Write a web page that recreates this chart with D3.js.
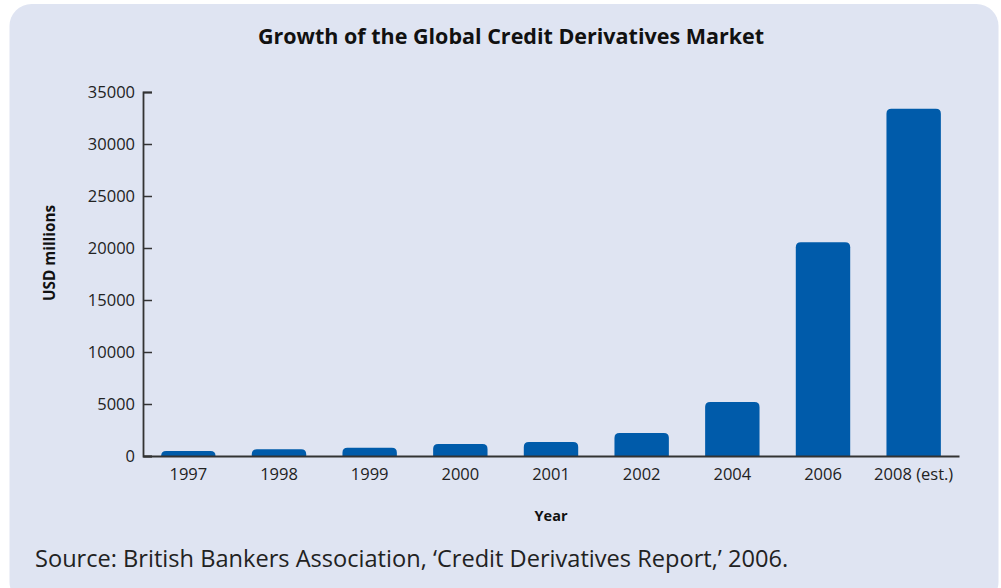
<!DOCTYPE html>
<html>
<head>
<meta charset="utf-8">
<script src="https://cdn.jsdelivr.net/npm/d3@7"></script>
<style>
  html, body { margin: 0; padding: 0; background: #ffffff; }
  svg { display: block; font-family: "Open Sans", "Noto Sans", sans-serif; }
</style>
</head>
<body>
<svg id="chart" width="1001" height="588"></svg>
<script>
// Global credit derivatives market size, USD millions
const years = ["1997", "1998", "1999", "2000", "2001", "2002", "2004", "2006", "2008 (est.)"];
const values = [480, 650, 800, 1150, 1350, 2200, 5200, 20550, 33400];
const yTicks = [0, 5000, 10000, 15000, 20000, 25000, 30000, 35000];

const svg = d3.select("#chart");

// panel background
svg.append("rect")
  .attr("x", 9.5).attr("y", 4)
  .attr("width", 989).attr("height", 600)
  .attr("rx", 22).attr("ry", 22)
  .attr("fill", "#dfe4f2");

const x = d3.scaleBand()
  .domain(years)
  .range([143, 959])
  .paddingInner(0.4)
  .paddingOuter(0.2);

const y = d3.scaleLinear()
  .domain([0, 35000])
  .range([456, 92]);

// bars with rounded tops
const r = 5;
function barPath(d, i) {
  const x0 = x(years[i]), w = x.bandwidth();
  const y0 = y(0), y1 = y(d);
  const rr = Math.min(r, (y0 - y1));
  return `M${x0},${y0}V${y1 + rr}Q${x0},${y1} ${x0 + rr},${y1}H${x0 + w - rr}Q${x0 + w},${y1} ${x0 + w},${y1 + rr}V${y0}Z`;
}
svg.append("g")
  .selectAll("path")
  .data(values)
  .join("path")
  .attr("d", barPath)
  .attr("fill", "#005baa");

// y axis
const yAxis = d3.axisRight(y).tickValues(yTicks).tickSize(9).tickFormat(d3.format("d"));
const gy = svg.append("g").attr("transform", "translate(143,0)").call(yAxis);
gy.select(".domain").attr("stroke", "#333").attr("stroke-width", 1.8);
gy.selectAll(".tick line").attr("stroke", "#333").attr("stroke-width", 1.5);
gy.selectAll(".tick text")
  .attr("x", -8).attr("text-anchor", "end")
  .attr("font-size", 16.5).attr("fill", "#222")
  .attr("font-family", "'Open Sans', sans-serif");

// x axis
const xAxis = d3.axisBottom(x).tickSize(0).tickPadding(12);
const gx = svg.append("g").attr("transform", "translate(0,456)").call(xAxis);
gx.select(".domain").attr("stroke", "#333").attr("stroke-width", 2);
gx.selectAll(".tick text")
  .attr("font-size", 16.5).attr("fill", "#222")
  .attr("font-family", "'Open Sans', sans-serif");

// titles
svg.append("text")
  .attr("x", 511).attr("y", 44)
  .attr("text-anchor", "middle")
  .attr("font-size", 21.5).attr("font-weight", "bold").attr("fill", "#111")
  .text("Growth of the Global Credit Derivatives Market");

svg.append("text")
  .attr("transform", "translate(55,253) rotate(-90)")
  .attr("text-anchor", "middle")
  .attr("font-size", 15.3).attr("font-weight", "bold").attr("fill", "#111")
  .text("USD millions");

svg.append("text")
  .attr("x", 551).attr("y", 521)
  .attr("text-anchor", "middle")
  .attr("font-size", 14.5).attr("font-weight", "bold").attr("fill", "#111")
  .text("Year");

svg.append("text")
  .attr("x", 35).attr("y", 567)
  .attr("font-size", 23.6).attr("fill", "#222")
  .text("Source: British Bankers Association, ‘Credit Derivatives Report,’ 2006.");
</script>
</body>
</html>
